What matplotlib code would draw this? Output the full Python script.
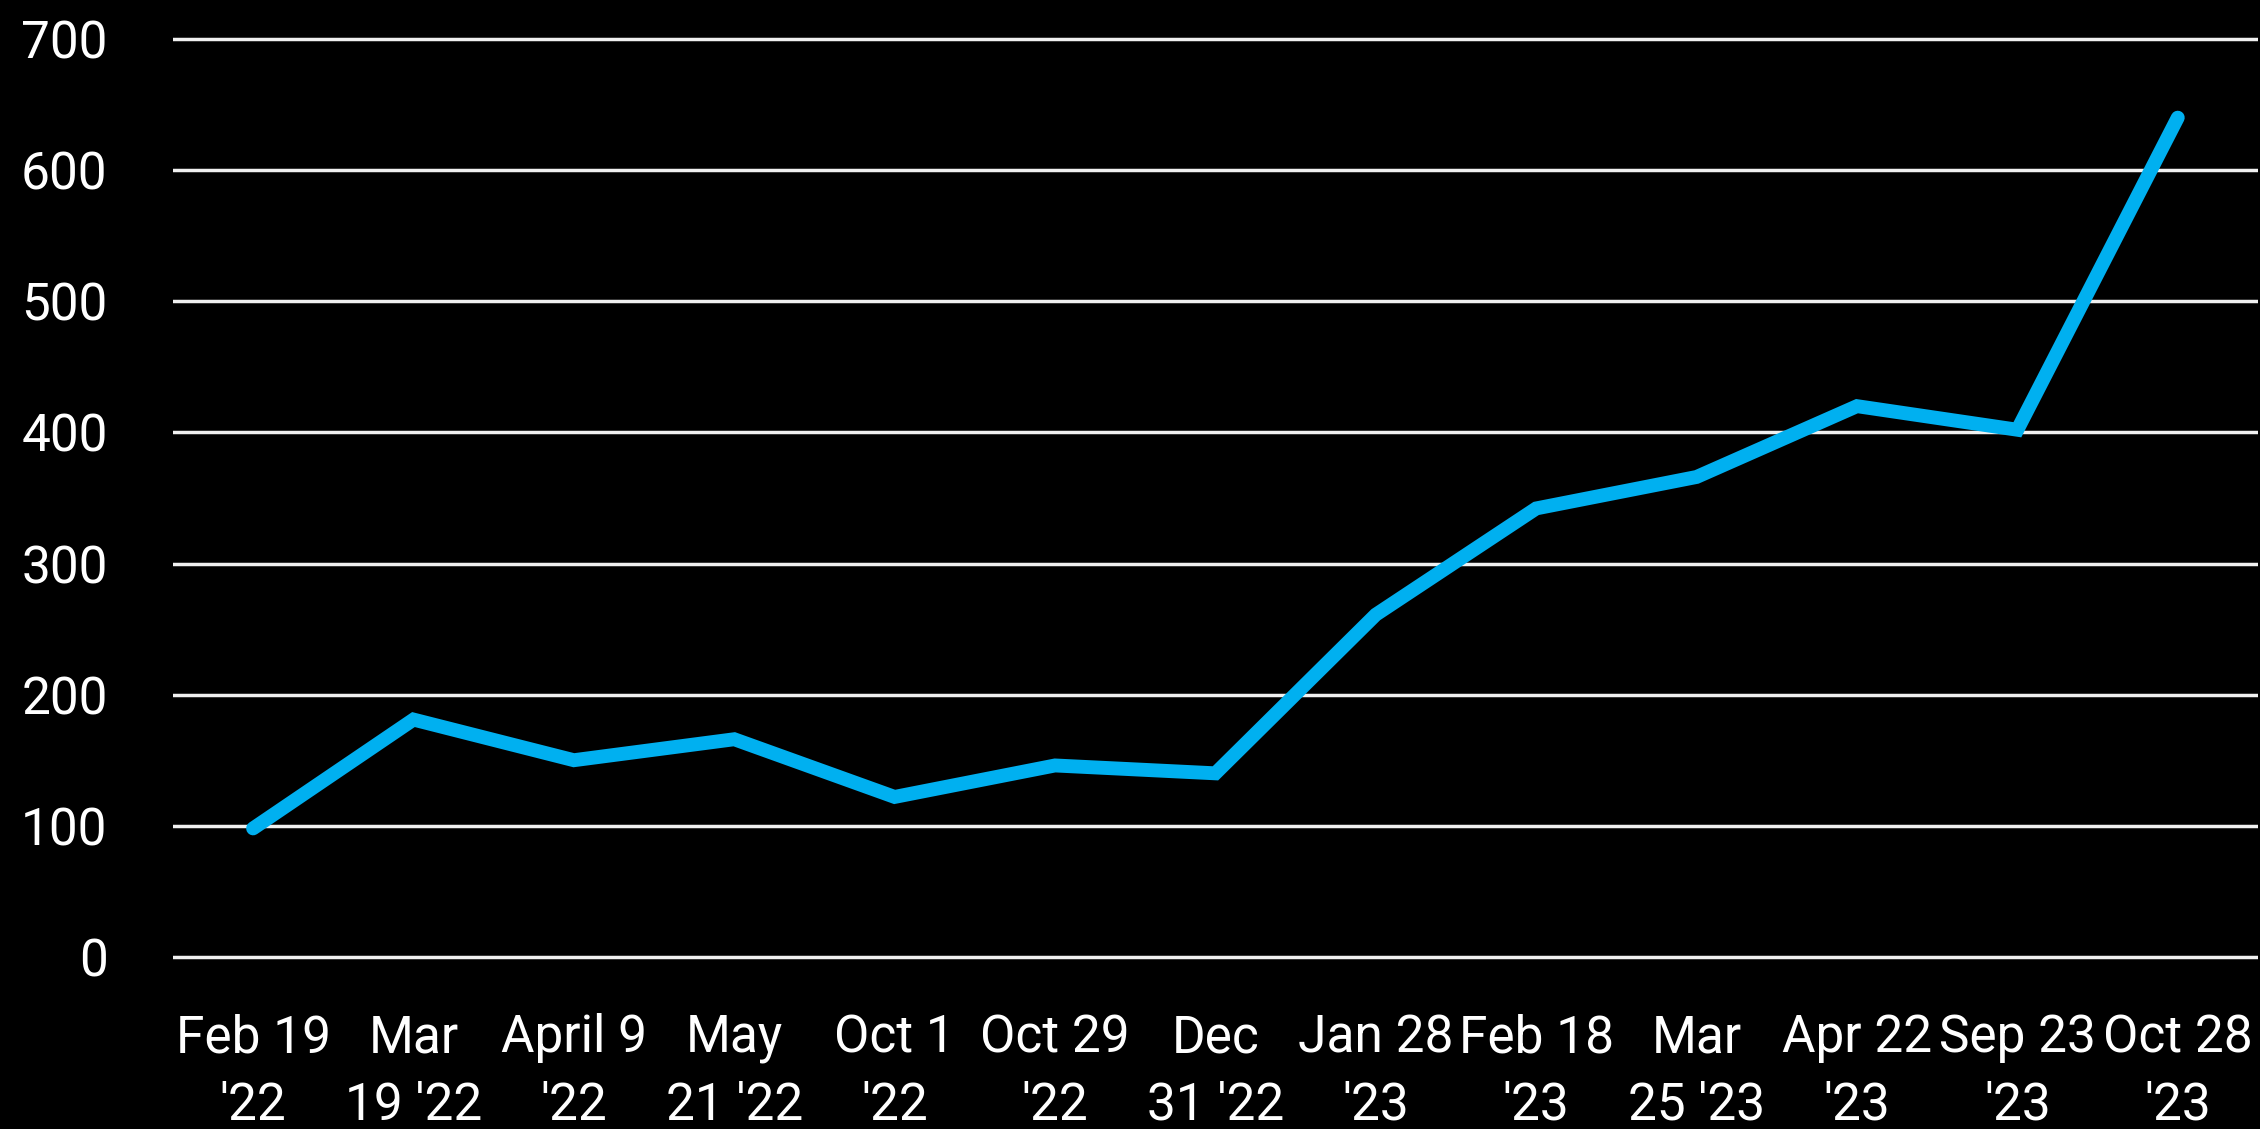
import matplotlib.pyplot as plt

# weekly readings
dates = ["Feb 19\n'22", "Mar\n19 '22", "April 9\n'22", "May\n21 '22", "Oct 1\n'22",
         "Oct 29\n'22", "Dec\n31 '22", "Jan 28\n'23", "Feb 18\n'23", "Mar\n25 '23",
         "Apr 22\n'23", "Sep 23\n'23", "Oct 28\n'23"]
values = [98, 181, 150, 166, 122, 146, 140, 261, 342, 366, 420, 402, 640]
yticks = [0, 100, 200, 300, 400, 500, 600, 700]

plt.rcParams['font.family'] = ['Roboto', 'DejaVu Sans']

fig = plt.figure(figsize=(22.6, 11.29), dpi=100, facecolor='black')
ax = fig.add_axes([0.0765, 0.1408, 0.9226, 0.8363], facecolor='black')

x = list(range(len(dates)))
ax.plot(x, values, color='#00B0F0', linewidth=10,
        solid_capstyle='round', solid_joinstyle='miter', zorder=3)

ax.set_xlim(-0.5, len(dates) - 0.5)
ax.set_ylim(-10, 710)
ax.set_yticks(yticks)
ax.set_xticks(x)
ax.set_xticklabels(dates, linespacing=1.45, ha='center', multialignment='center')

ax.grid(axis='y', color='#f0f0f0', linewidth=2.5)
ax.set_axisbelow(True)
for s in ax.spines.values():
    s.set_visible(False)

ax.tick_params(axis='y', length=0, pad=47, labelsize=37, labelcolor='white')
ax.tick_params(axis='x', length=0, pad=31, labelsize=37, labelcolor='white')

fig.savefig('out.png', dpi=100, facecolor='black')
